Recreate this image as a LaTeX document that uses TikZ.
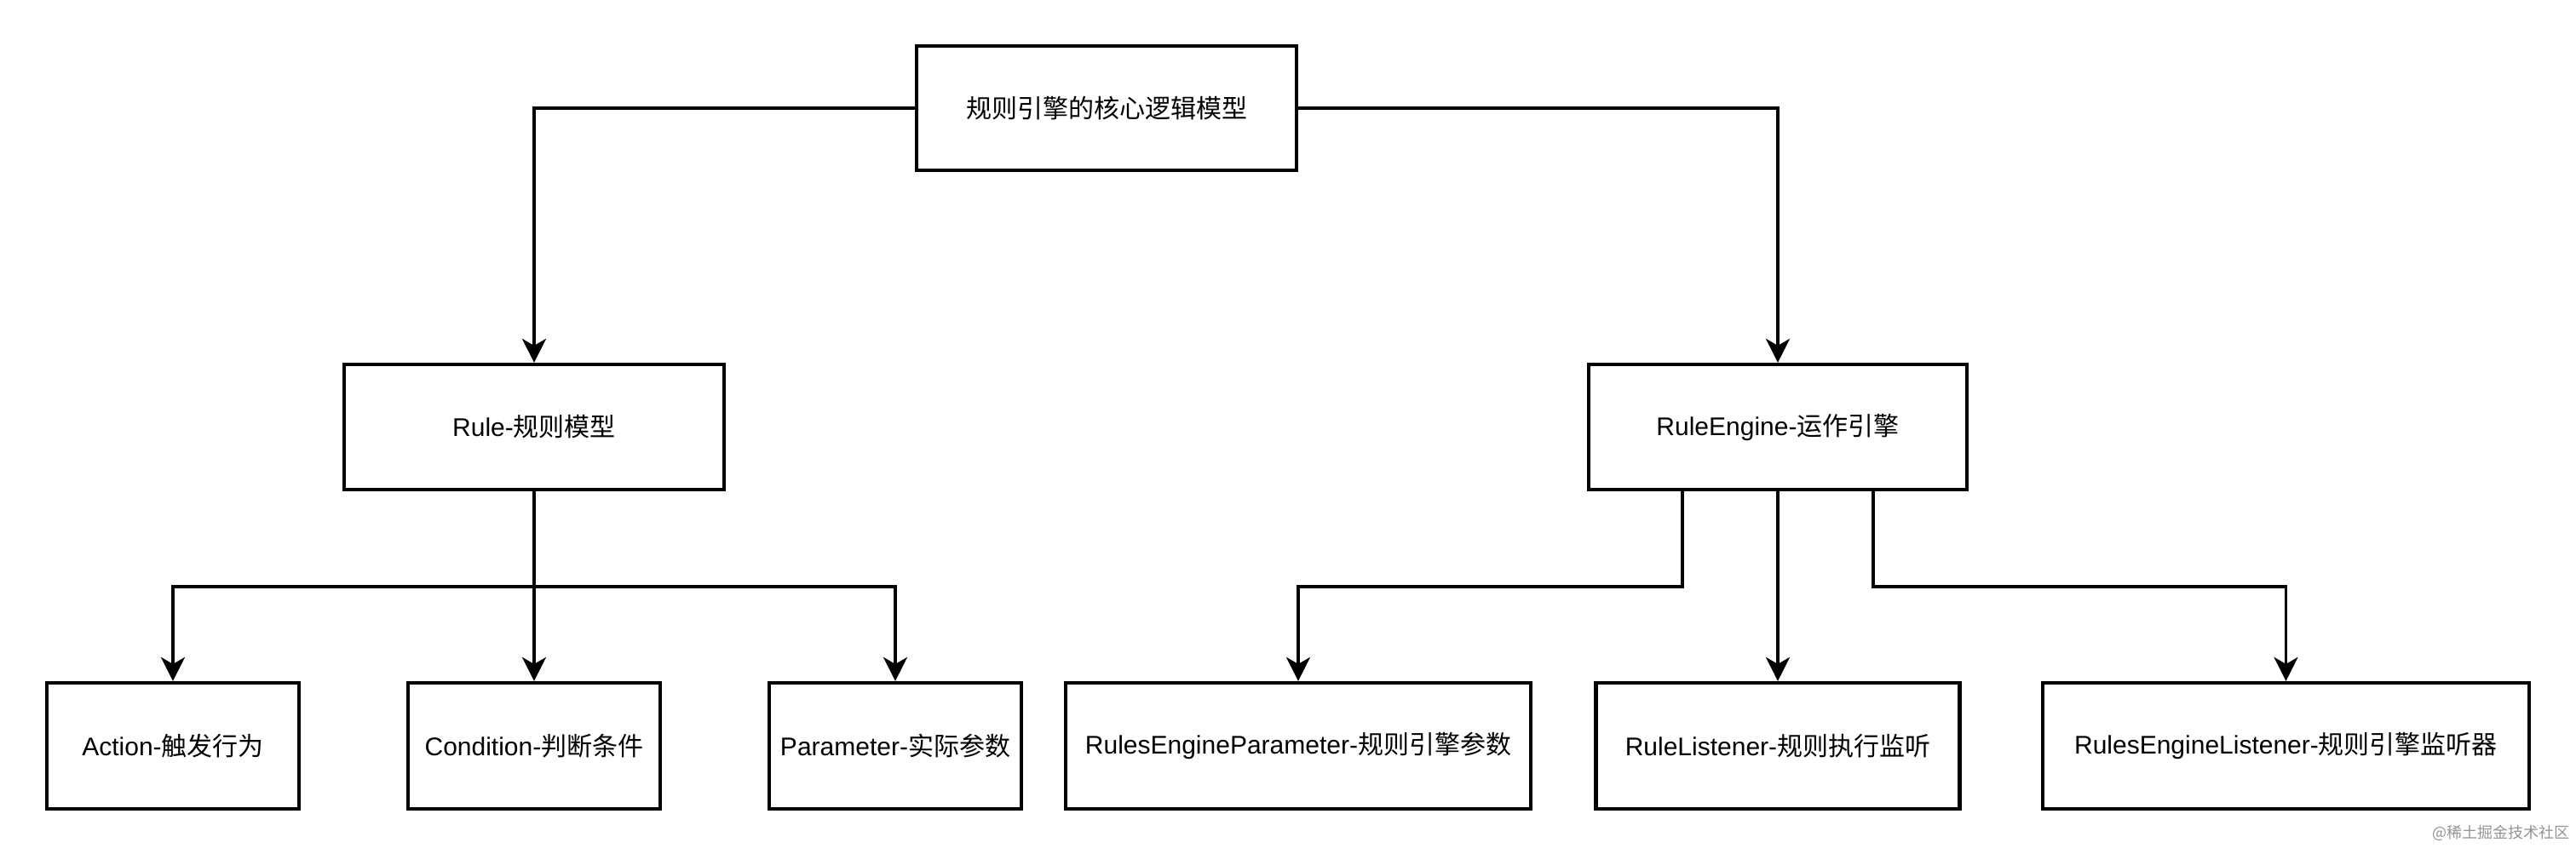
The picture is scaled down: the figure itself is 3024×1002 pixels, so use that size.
\documentclass[tikz,border=0pt]{standalone}
\usepackage{fontspec}
\setmainfont{Liberation Sans}
\newfontfamily\cjk{Noto Sans CJK SC}
\usetikzlibrary{arrows.meta,positioning}
\tikzset{
  box/.style={draw=black, line width=2.1pt, fill=white, inner sep=0pt, align=center,
    font=\fontsize{15pt}{18pt}\selectfont},
  arr/.style={draw=black, line width=1.9pt, -{Stealth[length=14pt,width=14pt,inset=4pt]}},
  ln/.style={draw=black, line width=1.9pt},
}
\begin{document}
\begin{tikzpicture}[x=0.5pt,y=-0.5pt]
\useasboundingbox[fill=white] (0,0) rectangle (3024,1002);
% nodes
\node[box, minimum width=223pt, minimum height=73pt] (top) at (1299,127) {{\cjk 规则引擎的核心逻辑模型}};
\node[box, minimum width=223pt, minimum height=73.5pt] (rule) at (627,501.5) {Rule-{\cjk 规则模型}};
\node[box, minimum width=222pt, minimum height=73.5pt] (re) at (2087,501.5) {RuleEngine-{\cjk 运作引擎}};
\node[box, minimum width=148pt, minimum height=74pt] (action) at (203,876) {Action-{\cjk 触发行为}};
\node[box, minimum width=148pt, minimum height=74pt] (cond) at (627,876) {Condition-{\cjk 判断条件}};
\node[box, minimum width=148pt, minimum height=74pt] (param) at (1051,876) {Parameter-{\cjk 实际参数}};
\node[box, minimum width=273pt, minimum height=74pt] (rep) at (1524,876) {RulesEngineParameter-{\cjk 规则引擎参数}};
\node[box, minimum width=213.5pt, minimum height=74pt] (rl) at (2087,876) {RuleListener-{\cjk 规则执行监听}};
\node[box, minimum width=285.5pt, minimum height=74pt] (rel) at (2683.5,876) {RulesEngineListener-{\cjk 规则引擎监听器}};
% bus coordinates
\coordinate (rbus) at (627,689);
\coordinate (el) at (1975,689);
\coordinate (er) at (2199,689);
% connectors from top
\draw[arr] (top.west) -| (rule.north);
\draw[arr] (top.east) -| (re.north);
% rule children
\draw[arr] (rule.south) -- (rbus) -| (action.north);
\draw[arr] (rule.south) -- (cond.north);
\draw[arr] (rbus) -| (param.north);
% rule engine children
\draw[arr] (re.south -| el) -- (el) -| (rep.north);
\draw[arr] (re.south) -- (rl.north);
\draw[arr] (re.south -| er) -- (er) -| (rel.north);
% watermark
\node[text=black!42, font=\cjk\fontsize{9pt}{11pt}\selectfont, inner sep=0pt] (wm) at (2936,978) {@稀土掘金技术社区};
\end{tikzpicture}
\end{document}
